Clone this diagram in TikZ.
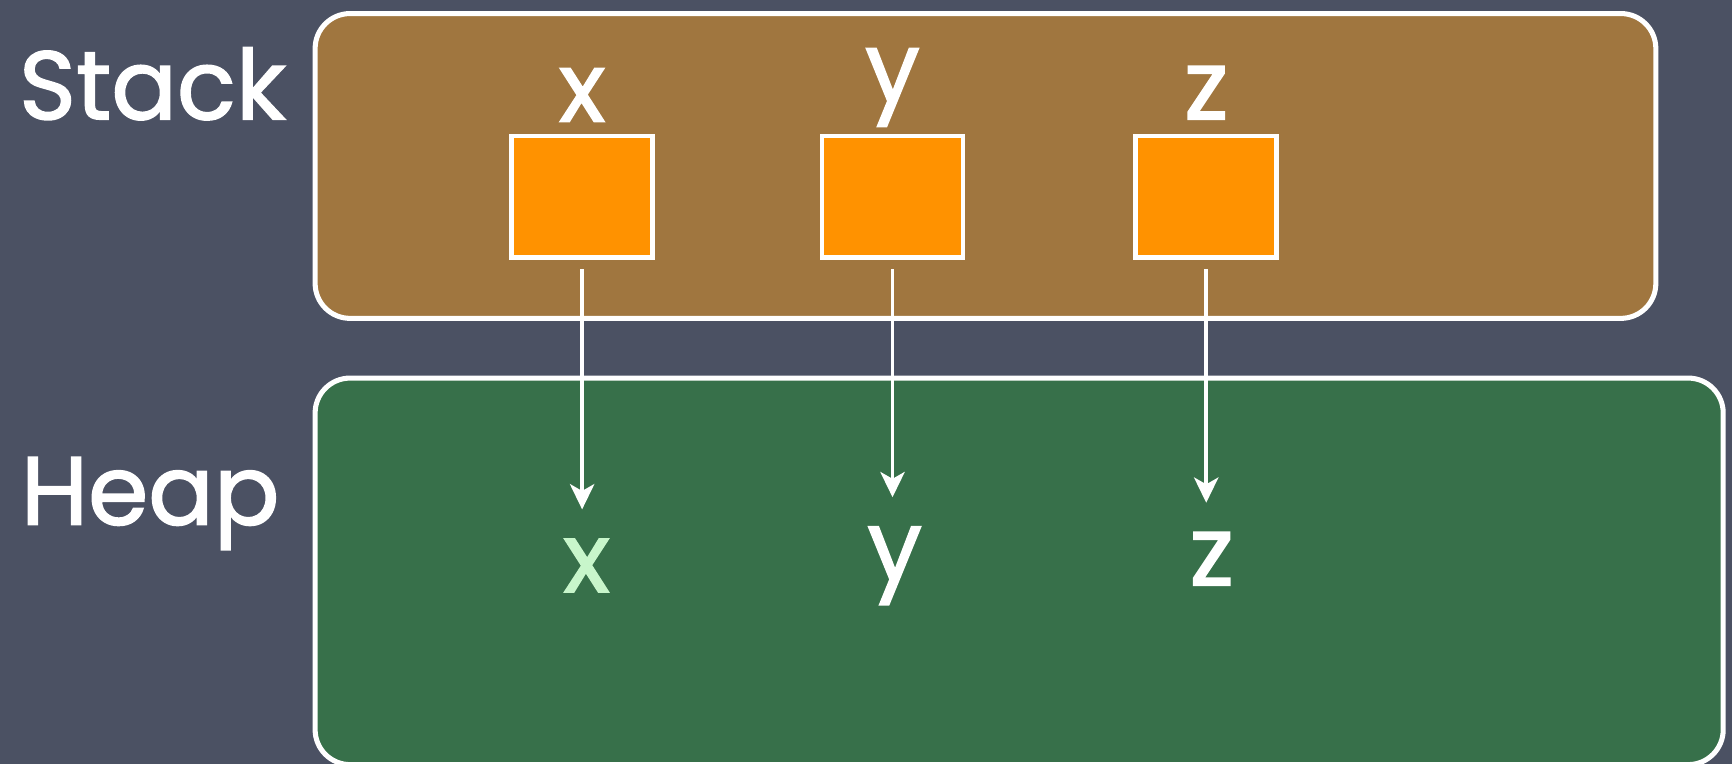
\documentclass[tikz,border=0pt]{standalone}
\usepackage{fontspec}
\setmainfont{Poppins}
\newfontfamily\chalk[BoldFont=Poppins, BoldFeatures={FakeBold=1.6}]{Poppins}
\usetikzlibrary{arrows.meta}
\definecolor{board}{HTML}{4B5163}
\definecolor{stackfill}{HTML}{A0763F}
\definecolor{heapfill}{HTML}{37704A}
\definecolor{cell}{HTML}{FF9200}
\definecolor{lightx}{HTML}{C8F6CB}
\tikzset{
  region/.style={draw=white, line width=2.6pt, rounded corners=18pt},
  cellbox/.style={draw=white, line width=2.4pt, fill=cell, minimum width=2.55cm, minimum height=2.2cm, inner sep=0pt},
  bigtext/.style={text=white, font=\chalk\bfseries\fontsize{50}{56}\selectfont, inner sep=0pt},
  varlabel/.style={text=white, font=\chalk\bfseries\fontsize{50}{56}\selectfont, inner sep=0pt, anchor=base},
  ptr/.style={draw=white, line width=2pt, -{Stealth[length=13pt, width=12.5pt, inset=3.5pt]}, shorten <=5pt, shorten >=15pt}
}
\begin{document}
\begin{tikzpicture}[x=0.02cm, y=-0.02cm]
\fill[board] (0,0) rectangle (1568,692);
\useasboundingbox (0,0) rectangle (1568,692);
% regions
\node[region, fill=stackfill, minimum width=24.28cm, minimum height=5.52cm, anchor=north west] (stack) at (283,10) {};
\node[region, fill=heapfill, minimum width=25.5cm, minimum height=7.0cm, anchor=north west] (heap) at (283,340) {};
% region titles
\node[bigtext, anchor=base] (stacklbl) at (138,108) {Stack};
\node[bigtext, anchor=base] (heaplbl) at (136,475) {Heap};
% stack cells
\node[cellbox] (sx) at (527,178) {};
\node[cellbox] (sy) at (808,178) {};
\node[cellbox] (sz) at (1092,178) {};
\node[varlabel] (lx) at (527,110) {x};
\node[varlabel] (ly) at (808,92) {y};
\node[varlabel] (lz) at (1092,108) {z};
% heap objects
\node[varlabel, text=lightx] (hx) at (531,536) {x};
\node[varlabel] (hy) at (810,525) {y};
\node[varlabel] (hz) at (1097,530) {z};
% pointers
\draw[ptr] (sx.south) -- (sx.south |- hx.north);
\draw[ptr] (sy.south) -- (sy.south |- hy.north);
\draw[ptr] (sz.south) -- (sz.south |- hz.north);
\end{tikzpicture}
\end{document}
